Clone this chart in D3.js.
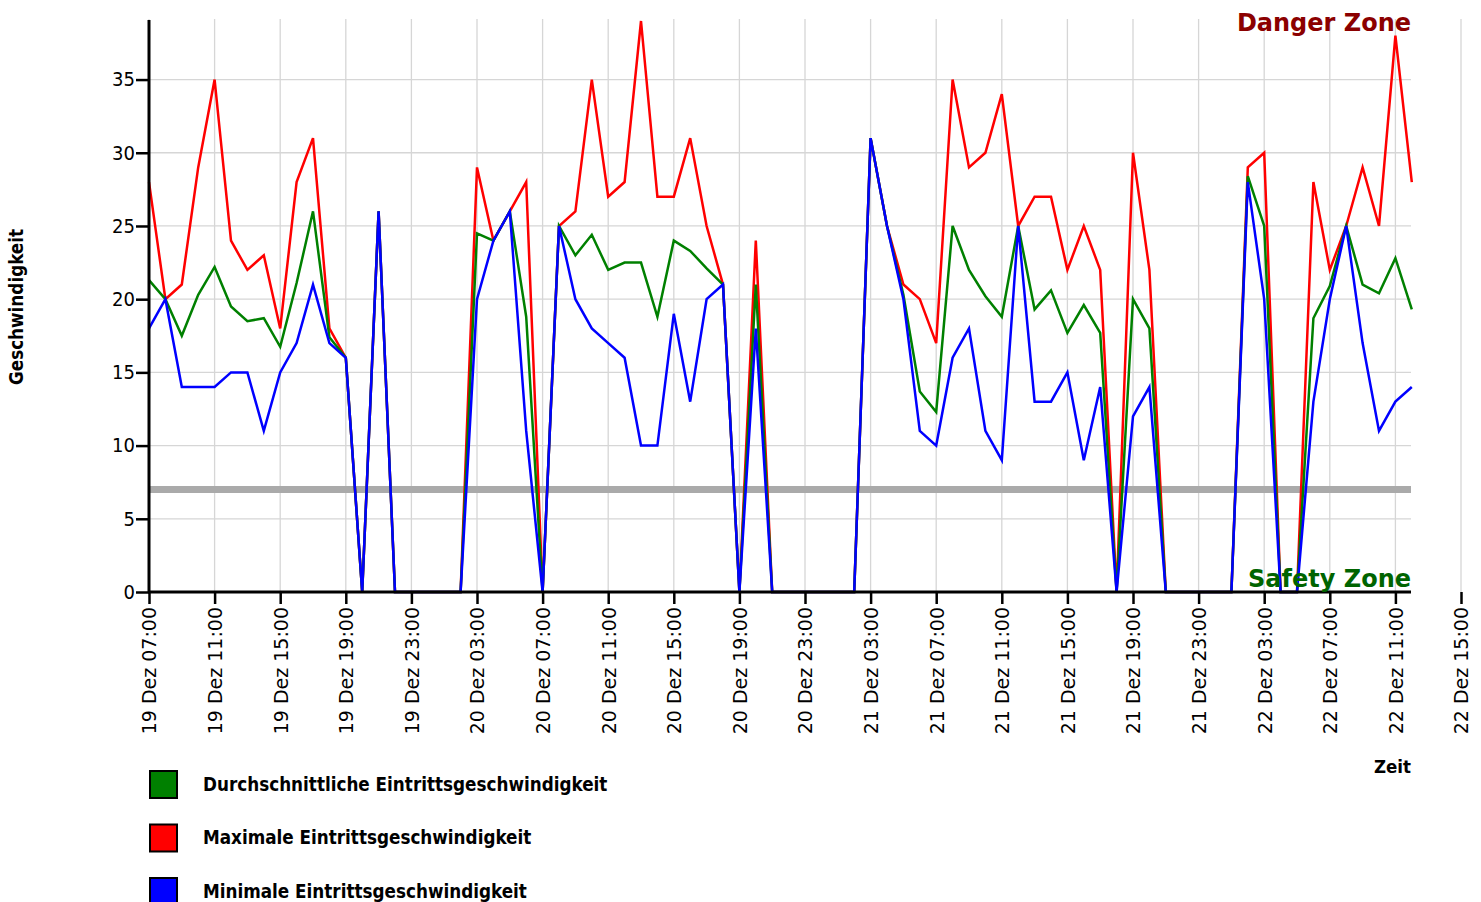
<!DOCTYPE html>
<html>
<head>
<meta charset="utf-8">
<script src="https://cdnjs.cloudflare.com/ajax/libs/d3/7.8.5/d3.min.js"></script>
<style>
  body { margin: 0; background: #fff; }
  svg { display: block; }
  .cond { font-family: "DejaVu Sans Condensed", "DejaVu Sans", sans-serif; font-stretch: condensed; }
</style>
</head>
<body>
<div id="chart"></div>
<script>
// hourly readings, first one at 19 Dez 07:00
var startTime = "2023-12-19T07:00:00";
var axisEnd = "2023-12-22T15:00:00";

var avgSpeed = [21.3, 20, 17.5, 20.3, 22.2, 19.5, 18.5, 18.7, 16.75, 21.1, 26, 17.4, 16, 0, 26, 0,
  0, 0, 0, 0, 24.5, 24, 26, 18.8, 0, 25, 23, 24.4, 22, 22.5, 22.5, 18.8, 24, 23.3, 22.1, 21, 0, 21, 0,
  0, 0, 0, 0, 0, 31, 25, 20.3, 13.7, 12.3, 25, 22, 20.2, 18.8, 25, 19.3, 20.6, 17.7, 19.6, 17.7, 0,
  20, 18, 0, 0, 0, 0, 0, 28.4, 25, 0, 0, 18.7, 20.9, 25, 21, 20.4, 22.8, 19.3];
var maxSpeed = [28, 20, 21, 29, 35, 24, 22, 23, 18, 28, 31, 18, 16, 0, 26, 0,
  0, 0, 0, 0, 29, 24, 26, 28, 0, 25, 26, 35, 27, 28, 39, 27, 27, 31, 25, 21, 0, 24, 0,
  0, 0, 0, 0, 0, 31, 25, 21, 20, 17, 35, 29, 30, 34, 25, 27, 27, 22, 25, 22, 0,
  30, 22, 0, 0, 0, 0, 0, 29, 30, 0, 0, 28, 22, 25, 29, 25, 38, 28];
var minSpeed = [18, 20, 14, 14, 14, 15, 15, 11, 15, 17, 21, 17, 16, 0, 26, 0,
  0, 0, 0, 0, 20, 24, 26, 11, 0, 25, 20, 18, 17, 16, 10, 10, 19, 13, 20, 21, 0, 18, 0,
  0, 0, 0, 0, 0, 31, 25, 20, 11, 10, 16, 18, 11, 9, 25, 13, 13, 15, 9, 14, 0,
  12, 14, 0, 0, 0, 0, 0, 28, 20, 0, 0, 13, 20, 25, 17, 11, 13, 14];

var seriesNames = ["Durchschnittliche Eintrittsgeschwindigkeit", "Maximale Eintrittsgeschwindigkeit", "Minimale Eintrittsgeschwindigkeit"];
var seriesColors = ["#008000", "#ff0000", "#0000ff"];
var yTicks = [0, 5, 10, 15, 20, 25, 30, 35];
var threshold = 7;

var w = 1481, h = 902;
var plotRight = 1411;

var t0 = new Date(startTime);
var times = maxSpeed.map(function(d, i){ return d3.timeHour.offset(t0, i); });
var tickTimes = d3.timeHour.range(t0, d3.timeHour.offset(new Date(axisEnd), 1), 4);

var x = d3.scaleTime()
  .domain([t0, new Date(axisEnd)])
  .range([149, 1461]);
var y = d3.scaleLinear()
  .domain([0, 39])
  .range([592, 21]);

var svg = d3.select("#chart").append("svg")
  .attr("width", w)
  .attr("height", h);

// grid
svg.append("g").selectAll("line")
  .data(tickTimes)
  .enter().append("line")
  .attr("x1", function(d){ return x(d); })
  .attr("x2", function(d){ return x(d); })
  .attr("y1", 19).attr("y2", 592)
  .attr("stroke", "#d6d6d6").attr("stroke-width", 1.3);
svg.append("g").selectAll("line")
  .data(yTicks)
  .enter().append("line")
  .attr("x1", 149).attr("x2", plotRight)
  .attr("y1", function(d){ return y(d); })
  .attr("y2", function(d){ return y(d); })
  .attr("stroke", "#d6d6d6").attr("stroke-width", 1.3);

// threshold
svg.append("line")
  .attr("x1", 149).attr("x2", plotRight)
  .attr("y1", y(threshold)).attr("y2", y(threshold))
  .attr("stroke", "#aaaaaa").attr("stroke-width", 7);

// lines
var allSeries = [avgSpeed, maxSpeed, minSpeed];
var line = d3.line()
  .x(function(d, i){ return x(times[i]); })
  .y(function(d){ return y(d); });

// red first, then green, blue on top
[1, 0, 2].forEach(function(k){
  svg.append("path")
    .datum(allSeries[k])
    .attr("d", line)
    .attr("fill", "none")
    .attr("stroke", seriesColors[k])
    .attr("stroke-width", 2.5)
    .attr("stroke-linejoin", "miter");
});

// x axis
var xAxis = svg.append("g")
  .attr("transform", "translate(0,592)")
  .call(d3.axisBottom(x)
    .tickValues(tickTimes)
    .tickSize(12)
    .tickFormat(d3.timeFormat("%d Dez %H:%M")));
xAxis.select(".domain").remove();
xAxis.selectAll(".tick line").attr("stroke", "#000").attr("stroke-width", 2.5);
xAxis.selectAll(".tick text")
  .attr("font-family", "DejaVu Sans")
  .attr("font-size", 19)
  .attr("fill", "#000")
  .attr("text-anchor", "end")
  .attr("transform", "rotate(-90)")
  .attr("x", -15)
  .attr("y", 0)
  .attr("dy", "0.36em");
svg.append("line")
  .attr("x1", 148).attr("x2", plotRight)
  .attr("y1", 592).attr("y2", 592)
  .attr("stroke", "#000").attr("stroke-width", 3);

// y axis
var yAxis = svg.append("g")
  .attr("transform", "translate(149,0)")
  .call(d3.axisLeft(y).tickValues(yTicks).tickSize(13).tickPadding(1));
yAxis.select(".domain").remove();
yAxis.selectAll(".tick line").attr("stroke", "#000").attr("stroke-width", 2.5);
yAxis.selectAll(".tick text")
  .attr("class", "cond")
  .attr("font-size", 20)
  .attr("fill", "#000");
svg.append("line")
  .attr("x1", 149).attr("x2", 149)
  .attr("y1", 20).attr("y2", 593)
  .attr("stroke", "#000").attr("stroke-width", 3);

// zone labels
svg.append("text")
  .attr("x", plotRight).attr("y", 31)
  .attr("text-anchor", "end")
  .attr("font-family", "DejaVu Sans").attr("font-weight", "bold").attr("font-size", 24)
  .attr("fill", "#8b0000")
  .text("Danger Zone");
svg.append("text")
  .attr("x", plotRight).attr("y", 587)
  .attr("text-anchor", "end")
  .attr("font-family", "DejaVu Sans").attr("font-weight", "bold").attr("font-size", 24)
  .attr("fill", "#006400")
  .text("Safety Zone");

// axis titles
svg.append("text")
  .attr("class", "cond")
  .attr("transform", "translate(23,307) rotate(-90)")
  .attr("text-anchor", "middle")
  .attr("font-weight", "bold").attr("font-size", 18.7)
  .text("Geschwindigkeit");
svg.append("text")
  .attr("class", "cond")
  .attr("x", plotRight).attr("y", 773)
  .attr("text-anchor", "end")
  .attr("font-weight", "bold").attr("font-size", 18.5)
  .text("Zeit");

// legend
var legend = svg.append("g").selectAll("g")
  .data(seriesNames)
  .enter().append("g")
  .attr("transform", function(d, i){ return "translate(149," + (770 + i * 53.5) + ")"; });
legend.append("rect")
  .attr("x", 1).attr("y", 1)
  .attr("width", 27).attr("height", 27)
  .attr("fill", function(d, i){ return seriesColors[i]; })
  .attr("stroke", "#000").attr("stroke-width", 2);
legend.append("text")
  .attr("class", "cond")
  .attr("x", 54).attr("y", 20.5)
  .attr("font-weight", "bold").attr("font-size", 18.7)
  .text(function(d){ return d; });
</script>
</body>
</html>
